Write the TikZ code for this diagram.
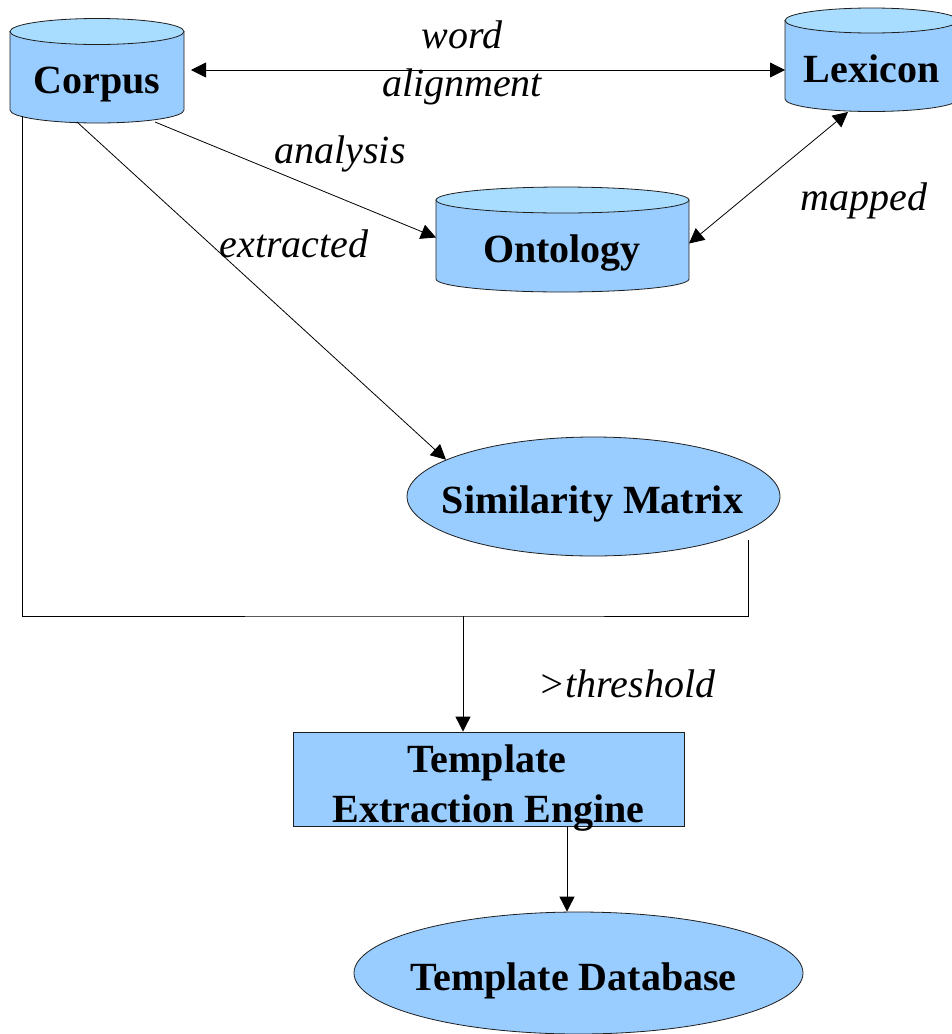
\documentclass[tikz,border=0pt]{standalone}
\usepackage{fontspec}
\setmainfont{Liberation Serif}
\usetikzlibrary{shapes.geometric,arrows.meta}
\definecolor{bodyc}{RGB}{153,204,255}
\definecolor{topc}{RGB}{168,221,255}
\definecolor{linec}{RGB}{30,30,30}
\newcommand\mycyl[5]{%
  \pgfmathsetmacro\cylcx{(#1+#2)/2}\pgfmathsetmacro\cylrx{(#2-#1)/2}%
  \filldraw[fill=bodyc, draw=linec, line width=0.8pt] (#1,#3) -- (#1,#4) arc[start angle=180, end angle=0, x radius=\cylrx, y radius=#5] -- (#2,#3) -- cycle;
  \filldraw[fill=topc, draw=linec, line width=0.8pt] (\cylcx,#3) ellipse[x radius=\cylrx, y radius=#5];
}
\begin{document}
\begin{tikzpicture}[x=1pt,y=-1pt,
  hold/.style={inner sep=0pt, outer sep=0pt, draw=none, rectangle},
  bold/.style={inner sep=0pt, font=\fontsize{40}{44}\selectfont\bfseries},
  lbl/.style={inner sep=0pt, font=\fontsize{40}{44}\selectfont\itshape},
  conn/.style={draw=black, line width=0.8pt},
  tip/.style={-{Triangle[length=15pt,width=15pt]}},
  tips/.style={{Triangle[length=15pt,width=15pt]}-{Triangle[length=15pt,width=15pt]}},
  ell/.style={ellipse, draw=linec, fill=bodyc, line width=0.8pt, inner sep=0pt}]
\clip (0,0) rectangle (952,1034);
\fill[white] (0,0) rectangle (952,1034);

% cylinders
\mycyl{10}{184}{31.5}{110}{13}
\mycyl{785}{958}{20.5}{99}{12.5}
\mycyl{436}{689}{200}{279}{13}
\node[hold, minimum width=174pt, minimum height=78.5pt] (corpus) at (97,70.75) {};
\node[hold, minimum width=173pt, minimum height=78.5pt] (lexicon) at (871.5,59.75) {};
\node[hold, minimum width=253pt, minimum height=79pt] (ontology) at (562.5,239.5) {};
\node[bold, anchor=base] (corpus-t) at (97,93) {Corpus};
\node[bold, anchor=base] (lexicon-t) at (871.5,82) {Lexicon};
\node[bold, anchor=base] (ontology-t) at (562,262) {Ontology};

% ellipses and box
\node[ell, minimum width=373pt, minimum height=119pt] (sim) at (593.5,496.5) {};
\node[bold, anchor=base] (sim-t) at (592.5,513) {Similarity Matrix};
\node[draw=linec, fill=bodyc, line width=0.8pt, rectangle, inner sep=0pt, minimum width=391pt, minimum height=94pt] (engine) at (488.5,779) {};
\node[bold, anchor=base] (engine-t1) at (487,772) {Template};
\node[bold, anchor=base] (engine-t2) at (488.5,822) {Extraction Engine};
\node[ell, minimum width=449pt, minimum height=122pt] (db) at (578.5,973) {};
\node[bold, anchor=base] (db-t) at (573.5,990) {Template Database};

% connectors
\draw[conn, tips] ([shift={(7,-0.75)}]corpus.east) -- ([shift={(0,10.25)}]lexicon.west);
\draw[conn, tip] ([shift={(58,12)}]corpus.south) -- ([shift={(0,-2)}]ontology.west);
\draw[conn, tip] ([shift={(-20,12)}]corpus.south) -- (sim.166);
\draw[conn, tips] ([shift={(-23.5,13)}]lexicon.south) -- ([shift={(0,4)}]ontology.east);
\coordinate (join) at (463,616);
\draw[conn] ([shift={(-75,6)}]corpus.south) -- (22,616) -- (join) -- (748,616) -- ([shift={(154.5,43.5)}]sim.center);
\draw[conn, tip] (join) -- (join |- engine.north);
\coordinate (eout) at ([shift={(78.5,0)}]engine.south);
\draw[conn, tip] (eout) -- (eout |- db.north);

% labels
\node[lbl, anchor=base] (l-word) at (462,48) {word};
\node[lbl, anchor=base] (l-align) at (462,96) {alignment};
\node[lbl, anchor=base] (l-analysis) at (340,163) {analysis};
\node[lbl, anchor=base] (l-extracted) at (294,257) {extracted};
\node[lbl, anchor=base] (l-mapped) at (864,210) {mapped};
\node[lbl, anchor=base] (l-thr) at (627,697) {>threshold};
\end{tikzpicture}
\end{document}
